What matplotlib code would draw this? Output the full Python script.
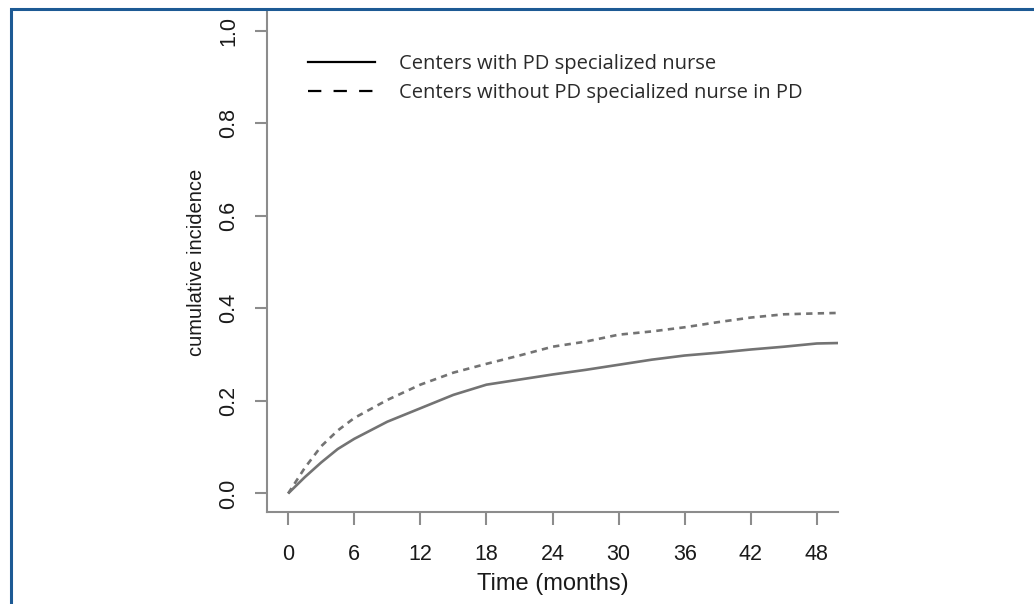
import matplotlib
matplotlib.use("Agg")
import matplotlib.pyplot as plt
from matplotlib.lines import Line2D
from matplotlib.patches import Rectangle

# months and cumulative incidence
months = [0, 1.5, 3, 4.5, 6, 9, 12, 15, 18, 21, 24, 27, 30, 33, 36, 39, 42, 45, 48, 50]
with_nurse = [0, 0.035, 0.067, 0.096, 0.118, 0.155, 0.184, 0.213, 0.235, 0.246, 0.257,
              0.267, 0.278, 0.289, 0.298, 0.304, 0.311, 0.317, 0.324, 0.325]
without_nurse = [0, 0.055, 0.102, 0.136, 0.163, 0.202, 0.235, 0.261, 0.280, 0.298, 0.317,
                 0.328, 0.343, 0.350, 0.359, 0.370, 0.380, 0.387, 0.389, 0.390]

labels = ["Centers with PD specialized nurse",
          "Centers without PD specialized nurse in PD"]
xticks = [0, 6, 12, 18, 24, 30, 36, 42, 48]
yticks = [0.0, 0.2, 0.4, 0.6, 0.8, 1.0]

W, H = 1034, 604
fig = plt.figure(figsize=(W / 100, H / 100), dpi=100)
ax = fig.add_axes([267 / W, (H - 512) / H, (838 - 267) / W, (512 - 12) / H])

gray = "#737373"
ax.plot(months, with_nurse, color=gray, lw=1.9, solid_capstyle="butt")
ax.plot(months, without_nurse, color=gray, lw=1.9, linestyle=(0, (2.4, 2.0)))

ax.set_xlim(-1.92, 49.92)
ax.set_ylim(-0.04, 1.04)

for s in ["top", "right"]:
    ax.spines[s].set_visible(False)
for s in ["left", "bottom"]:
    ax.spines[s].set_color("#8c8c8c")
    ax.spines[s].set_linewidth(1.5)

ax.set_xticks(xticks)
ax.set_yticks(yticks)
ax.set_yticklabels(["%.1f" % v for v in yticks], rotation=90, va="center")
ax.tick_params(axis="both", colors="#8c8c8c", width=1.5, length=9, labelcolor="#1a1a1a",
               labelsize=15.5)
ax.tick_params(axis="x", pad=14)
ax.tick_params(axis="y", pad=11)
for t in ax.get_xticklabels() + ax.get_yticklabels():
    t.set_family("Liberation Sans")

ax.set_xlabel("Time (months)", fontsize=17, family="Liberation Sans", color="#1a1a1a",
              labelpad=6)
ax.set_ylabel("cumulative incidence", fontsize=14.5, family="Liberation Sans",
              color="#1a1a1a", labelpad=9)

handles = [Line2D([], [], color="black", lw=1.6),
           Line2D([], [], color="black", lw=1.6, linestyle=(0, (6, 5.5)))]
leg = ax.legend(handles, labels, loc="upper left", bbox_to_anchor=(290 / W, 1 - 36 / H),
                bbox_transform=fig.transFigure, frameon=False,
                prop={"family": "Open Sans", "size": 14.5},
                handlelength=3.3, handletextpad=1.2, labelspacing=0.45)
for t in leg.get_texts():
    t.set_color("#2a2a2a")

# blue frame around the figure
fig.add_artist(Rectangle((10.5 / W, -0.1), 1.2, (H - 8.5) / H + 0.1,
                         transform=fig.transFigure, fill=False,
                         edgecolor="#1d5a94", lw=2.2))

fig.savefig("out.png", dpi=100)
